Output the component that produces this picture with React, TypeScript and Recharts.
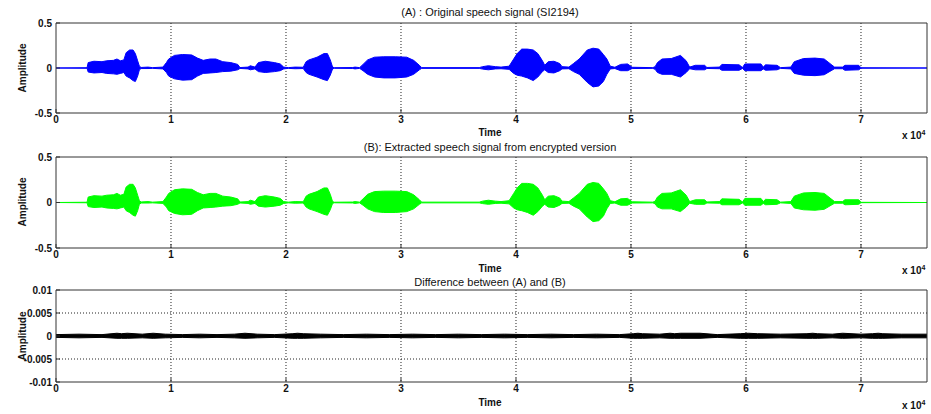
import React from 'react';
import { ComposedChart, Area, XAxis, YAxis, CartesianGrid } from 'recharts';

const W = 931;
const H = 414;
const X_MAX = 75740;
const X_TICKS = [0, 10000, 20000, 30000, 40000, 50000, 60000, 70000];

// speech envelope (sample index, upper, lower)
const sigT = [
  0, 2700, 2800, 3300, 4000, 4400, 5000, 5300, 5600, 5900, 6100, 6400, 6700, 6900, 7100, 7250, 7400, 8000, 8400,
  9300, 9600, 9800, 10300, 11000, 11800, 12300, 12800, 13400, 13900, 14500, 15200, 15800, 16000, 16700, 16900,
  17300, 17600, 18200, 19000, 19500, 19800, 20200, 20800, 21500, 21750, 22000, 22700, 23300, 23600, 23850, 24050,
  24200, 25800, 26000, 26400, 26700, 27100, 27700, 28500, 29500, 30500, 31100, 31600, 31800, 36800, 37100, 37600,
  38200, 38700, 39400, 39800, 40100, 40500, 41000, 41500, 41900, 42300, 42500, 42800, 43300, 43800, 44000, 44600,
  45000, 45500, 46200, 46700, 47200, 47600, 47900, 48200, 48600, 49100, 49700, 50100, 51900, 52100, 52300, 52700,
  53500, 54300, 54800, 55100, 55600, 56400, 56600, 57700, 57900, 59400, 59700, 59900, 61300, 61500, 61700, 62700,
  63000, 63900, 64200, 65000, 66000, 66800, 67400, 67700, 68400, 68600, 69800, 70000, 75740,
];
const sigHi = [
  0, 0.003, 0.06, 0.075, 0.07, 0.08, 0.085, 0.1, 0.08, 0.09, 0.17, 0.2, 0.2, 0.16, 0.08, 0.02, 0.006, 0.01, 0.004,
  0.01, 0.06, 0.1, 0.14, 0.15, 0.145, 0.11, 0.085, 0.1, 0.1, 0.07, 0.06, 0.04, 0.005, 0.01, 0.025,
  0.01, 0.06, 0.075, 0.06, 0.045, 0.01, 0.004, 0.01, 0.008, 0.07, 0.09, 0.12, 0.16, 0.16, 0.09, 0.01,
  0.003, 0.005, 0.01, 0.004, 0.04, 0.09, 0.12, 0.125, 0.125, 0.12, 0.085, 0.03, 0.004, 0.004, 0.015, 0.025,
  0.015, 0.01, 0.02, 0.1, 0.16, 0.21, 0.21, 0.2, 0.16, 0.08, 0.03, 0.07, 0.075, 0.05, 0.015, 0.01,
  0.05, 0.1, 0.2, 0.22, 0.21, 0.15, 0.1, 0.02, 0.008, 0.04, 0.045, 0.008, 0.004, 0.015, 0.06, 0.1,
  0.105, 0.14, 0.08, 0.01, 0.03, 0.03, 0.006, 0.01, 0.04, 0.035, 0.005, 0.045, 0.045, 0.01, 0.035, 0.03,
  0.004, 0.01, 0.07, 0.105, 0.11, 0.1, 0.04, 0.01, 0.01, 0.03, 0.03, 0.002, 0,
];
const sigLo = [
  0, -0.003, -0.045, -0.055, -0.05, -0.06, -0.065, -0.07, -0.06, -0.05, -0.09, -0.11, -0.14, -0.15, -0.09, -0.02, -0.006, -0.006, -0.004,
  -0.01, -0.05, -0.09, -0.12, -0.135, -0.13, -0.09, -0.06, -0.055, -0.05, -0.04, -0.035, -0.02, -0.005, -0.01, -0.02,
  -0.01, -0.04, -0.05, -0.04, -0.03, -0.01, -0.004, -0.008, -0.006, -0.05, -0.07, -0.1, -0.13, -0.14, -0.08, -0.01,
  -0.003, -0.005, -0.01, -0.004, -0.03, -0.07, -0.1, -0.11, -0.11, -0.1, -0.07, -0.02, -0.004, -0.004, -0.012, -0.02,
  -0.01, -0.008, -0.015, -0.06, -0.08, -0.09, -0.11, -0.14, -0.1, -0.04, -0.02, -0.05, -0.055, -0.03, -0.01, -0.008,
  -0.04, -0.07, -0.16, -0.21, -0.2, -0.15, -0.07, -0.01, -0.006, -0.03, -0.03, -0.006, -0.004, -0.015, -0.05, -0.07,
  -0.07, -0.1, -0.05, -0.008, -0.02, -0.02, -0.005, -0.008, -0.025, -0.025, -0.005, -0.03, -0.03, -0.01, -0.025, -0.02,
  -0.004, -0.01, -0.06, -0.08, -0.085, -0.075, -0.03, -0.008, -0.008, -0.025, -0.02, -0.002, 0,
];

// difference (A) - (B), band of the residual noise
const diffT = [
  0, 2000, 4000, 5300, 5700, 6200, 7500, 8450, 9500, 11000, 12500, 14000, 15500, 16430, 17500, 19000, 20600, 21000,
  21500, 23000, 25000, 27000, 29000, 31000, 33000, 35000, 37000, 39000, 41000, 43000, 45000, 47000, 49000, 50200,
  50600, 51000, 52500, 53400, 53800, 54300, 56000, 57500, 59500, 60200, 61000, 63000, 65300, 65800, 66200, 67500,
  68400, 70000, 71000, 71500, 71900, 73500, 75740,
];
const diffHi = [
  0.0003, 0.0004, 0.0003, 0.0006, 0.0005, 0.0006, 0.0004, 0.0006, 0.0004, 0.0003, 0.0004, 0.0003, 0.0004, 0.0006, 0.0004, 0.0003, 0.0005, 0.0006,
  0.0005, 0.0004, 0.0003, 0.0004, 0.0003, 0.0004, 0.0003, 0.0004, 0.0003, 0.0004, 0.0003, 0.0004, 0.0003, 0.0004, 0.0003, 0.0005,
  0.0006, 0.0005, 0.0004, 0.0006, 0.0005, 0.0006, 0.0006, 0.0003, 0.0005, 0.0006, 0.0005, 0.0004, 0.0005, 0.0006, 0.0005, 0.0004,
  0.0006, 0.0004, 0.0005, 0.0006, 0.0005, 0.0004, 0.0004,
];
const diffLo = [
  -0.0003, -0.0004, -0.0003, -0.0005, -0.0005, -0.0005, -0.0004, -0.0005, -0.0004, -0.0003, -0.0004, -0.0003, -0.0004, -0.0005, -0.0004, -0.0003, -0.0005, -0.0005,
  -0.0005, -0.0004, -0.0003, -0.0004, -0.0003, -0.0004, -0.0003, -0.0004, -0.0003, -0.0004, -0.0003, -0.0004, -0.0003, -0.0004, -0.0003, -0.0005,
  -0.0005, -0.0005, -0.0004, -0.0005, -0.0005, -0.0005, -0.0005, -0.0003, -0.0005, -0.0005, -0.0005, -0.0004, -0.0005, -0.0005, -0.0005, -0.0004,
  -0.0005, -0.0004, -0.0005, -0.0005, -0.0005, -0.0004, -0.0004,
];

const speech = sigT.map((t, i) => ({ t, band: [sigLo[i], sigHi[i]] }));
const diff = diffT.map((t, i) => ({ t, band: [diffLo[i], diffHi[i]] }));

const FONT = '"Liberation Sans", Arial, sans-serif';
const FRAME = '#333';
const tickStyle = { fontSize: 10, fontWeight: 700, fill: '#111', fontFamily: FONT };

function Panel({ data, color, top, bottom, yDomain, yTicks, gridY }: any) {
  return (
    <div style={{ position: 'absolute', left: 0, top: 0 }}>
      <ComposedChart width={W} height={H} data={data} margin={{ top: top - 1, right: 3, bottom: H - bottom - 1, left: 55 }}>
        <CartesianGrid xAxisId="b" yAxisId="l" horizontal={gridY.length > 0} vertical
          horizontalValues={gridY} verticalValues={X_TICKS.slice(1)} stroke="#222" strokeDasharray="1 2" />
        <XAxis xAxisId="b" dataKey="t" type="number" domain={[0, X_MAX]} ticks={X_TICKS} height={1}
          allowDataOverflow stroke={FRAME} tickSize={-4} tickMargin={7} tick={tickStyle}
          tickFormatter={(v: number) => String(v / 10000)} />
        <XAxis xAxisId="t" orientation="top" dataKey="t" type="number" domain={[0, X_MAX]} ticks={X_TICKS} height={1}
          allowDataOverflow stroke={FRAME} tickSize={-4} tick={false} />
        <YAxis yAxisId="l" type="number" domain={yDomain} ticks={yTicks} width={1} allowDataOverflow
          stroke={FRAME} tickSize={-4} tickMargin={8} tick={tickStyle} interval={0} />
        <YAxis yAxisId="r" orientation="right" type="number" domain={yDomain} ticks={yTicks} width={1} allowDataOverflow
          stroke={FRAME} tickSize={-4} tick={false} />
        <Area xAxisId="b" yAxisId="l" type="linear" dataKey="band" stroke={color} strokeWidth={1}
          fill={color} fillOpacity={1} dot={false} activeDot={false} isAnimationActive={false} />
      </ComposedChart>
    </div>
  );
}

const txt = (x: number, y: number, s: string, extra: any = {}) => (
  <div style={{
    position: 'absolute', left: x, top: y, transform: 'translate(-50%, -50%)', whiteSpace: 'nowrap',
    fontFamily: FONT, fontSize: 11, color: '#111', ...extra,
  }}>{s}</div>
);

const times = (y: number) => (
  <div style={{ position: 'absolute', left: 902, top: y - 8, fontFamily: FONT, fontSize: 10, fontWeight: 700, color: '#111', whiteSpace: 'nowrap' }}>
    x 10<sup style={{ fontSize: 7 }}>4</sup>
  </div>
);

const ampl = (y: number) => txt(22, y, 'Amplitude', { transform: 'translate(-50%, -50%) rotate(-90deg)', fontSize: 10, fontWeight: 700 });

export default function App() {
  return (
    <div style={{ position: 'absolute', left: 0, top: 0, width: W, height: H, background: '#fff', overflow: 'hidden' }}>
      <Panel data={speech} color="#0000ff" top={23} bottom={113} yDomain={[-0.5, 0.5]} yTicks={[-0.5, 0, 0.5]} gridY={[]} />
      <Panel data={speech} color="#00ff00" top={157} bottom={248} yDomain={[-0.5, 0.5]} yTicks={[-0.5, 0, 0.5]} gridY={[]} />
      <Panel data={diff} color="#000000" top={290} bottom={382} yDomain={[-0.01, 0.01]}
        yTicks={[-0.01, -0.005, 0, 0.005, 0.01]} gridY={[-0.005, 0.005]} />

      {txt(490, 12, '(A) : Original speech signal (SI2194)')}
      {txt(490, 132, 'Time', { fontWeight: 700, fontSize: 10 })}
      {times(137)}
      {ampl(68)}

      {txt(490, 147, '(B): Extracted speech signal from encrypted version')}
      {txt(490, 268, 'Time', { fontWeight: 700, fontSize: 10 })}
      {times(272)}
      {ampl(202)}

      {txt(490, 282, 'Difference between (A) and (B)')}
      {txt(490, 402, 'Time', { fontWeight: 700, fontSize: 10 })}
      {times(407)}
      {ampl(336)}
    </div>
  );
}
